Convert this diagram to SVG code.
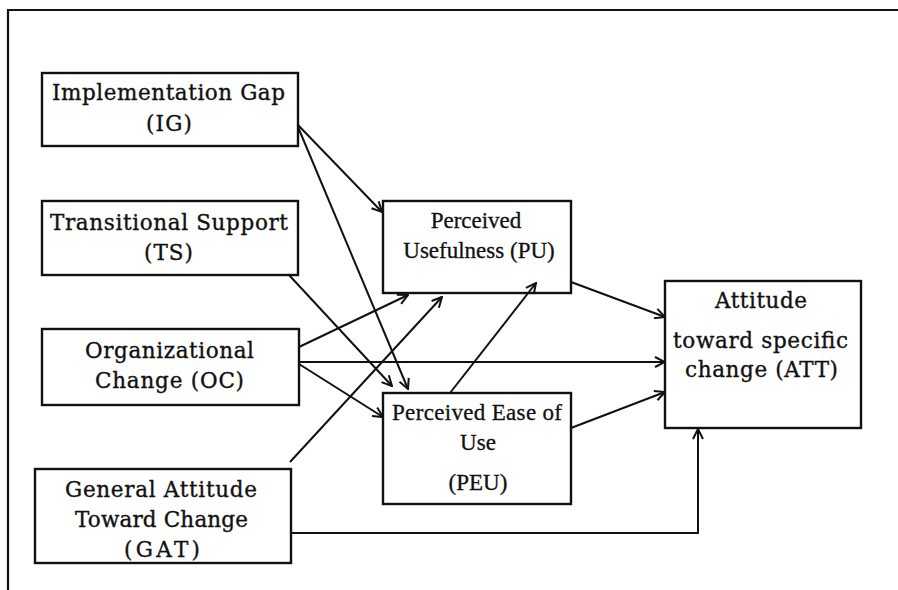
<svg xmlns="http://www.w3.org/2000/svg" width="898" height="590" viewBox="0 0 898 590">
  <style>
    .box { fill: #fff; stroke: #111; stroke-width: 2.4; }
    .frame { fill: none; stroke: #111; stroke-width: 2.2; }
    .wide { font-family: "DejaVu Serif", "Liberation Serif", serif; font-size: 21.5px; fill: #111; stroke: #111; stroke-width: 0.35; }
    .narrow { font-family: "Liberation Serif", "Times New Roman", serif; font-size: 23px; fill: #111; stroke: #111; stroke-width: 0.3; }
    .link { fill: none; stroke: #111; stroke-width: 2; }
  </style>
  <defs>
    <marker id="arrow" viewBox="0 0 12 12" refX="11" refY="6" markerWidth="12" markerHeight="12" markerUnits="userSpaceOnUse" orient="auto">
      <path d="M1,1 L11,6 L1,11" fill="none" stroke="#111" stroke-width="2"/>
    </marker>
  </defs>

  <rect width="898" height="590" fill="#fff"/>

  <!-- page frame: top and left rules -->
  <path class="frame" d="M8,590 L8,10 L898,10"/>

  <g id="ig">
    <rect class="box" x="42" y="73" width="256" height="73"/>
    <text class="wide" x="52" y="100" textLength="233" lengthAdjust="spacing">Implementation Gap</text>
    <text class="wide" x="146" y="131" textLength="46" lengthAdjust="spacing">(IG)</text>
  </g>

  <g id="ts">
    <rect class="box" x="42" y="201" width="256" height="74"/>
    <text class="wide" x="50" y="230" textLength="238" lengthAdjust="spacing">Transitional Support</text>
    <text class="wide" x="144" y="260" textLength="49" lengthAdjust="spacing">(TS)</text>
  </g>

  <g id="oc">
    <rect class="box" x="42" y="329" width="257" height="76"/>
    <text class="wide" x="85" y="358" textLength="169" lengthAdjust="spacing">Organizational</text>
    <text class="wide" x="95" y="388" textLength="149" lengthAdjust="spacing">Change (OC)</text>
  </g>

  <g id="gat">
    <rect class="box" x="35" y="469" width="256" height="94"/>
    <text class="wide" x="65" y="497" textLength="192" lengthAdjust="spacing">General Attitude</text>
    <text class="wide" x="75" y="527" textLength="173" lengthAdjust="spacing">Toward Change</text>
    <text class="wide" x="124" y="557" textLength="76" lengthAdjust="spacing">(GAT)</text>
  </g>

  <g id="pu">
    <rect class="box" x="383" y="201" width="188" height="92"/>
    <text class="narrow" x="476" y="228" text-anchor="middle">Perceived</text>
    <text class="narrow" x="479" y="258" text-anchor="middle">Usefulness (PU)</text>
  </g>

  <g id="peu">
    <rect class="box" x="383" y="393" width="188" height="111"/>
    <text class="narrow" x="392" y="420" textLength="170" lengthAdjust="spacing">Perceived Ease of</text>
    <text class="narrow" x="478" y="450" text-anchor="middle">Use</text>
    <text class="narrow" x="478" y="490" text-anchor="middle">(PEU)</text>
  </g>

  <g id="att">
    <rect class="box" x="665" y="281" width="196" height="147"/>
    <text class="wide" x="715" y="308" textLength="92" lengthAdjust="spacing">Attitude</text>
    <text class="wide" x="673" y="348" textLength="175" lengthAdjust="spacing">toward specific</text>
    <text class="wide" x="685" y="377" textLength="153" lengthAdjust="spacing">change (ATT)</text>
  </g>

  <!-- connectors drawn last so the PEU to PU head shows inside the PU box -->
  <g id="connectors">
    <path class="link" d="M298,125 L382,212" marker-end="url(#arrow)"/>
    <path class="link" d="M298,127 L408,389" marker-end="url(#arrow)"/>
    <path class="link" d="M289,275 L392,386" marker-end="url(#arrow)"/>
    <path class="link" d="M299,347 L408,295" marker-end="url(#arrow)"/>
    <path class="link" d="M299,362 L665,362" marker-end="url(#arrow)"/>
    <path class="link" d="M299,364 L383,417" marker-end="url(#arrow)"/>
    <path class="link" d="M290,462 L442,297" marker-end="url(#arrow)"/>
    <path class="link" d="M450,393 L536,283" marker-end="url(#arrow)"/>
    <path class="link" d="M571,282 L665,317" marker-end="url(#arrow)"/>
    <path class="link" d="M571,428 L665,392" marker-end="url(#arrow)"/>
    <path class="link" d="M291,533 L698,533 L698,429" marker-end="url(#arrow)"/>
  </g>
</svg>
